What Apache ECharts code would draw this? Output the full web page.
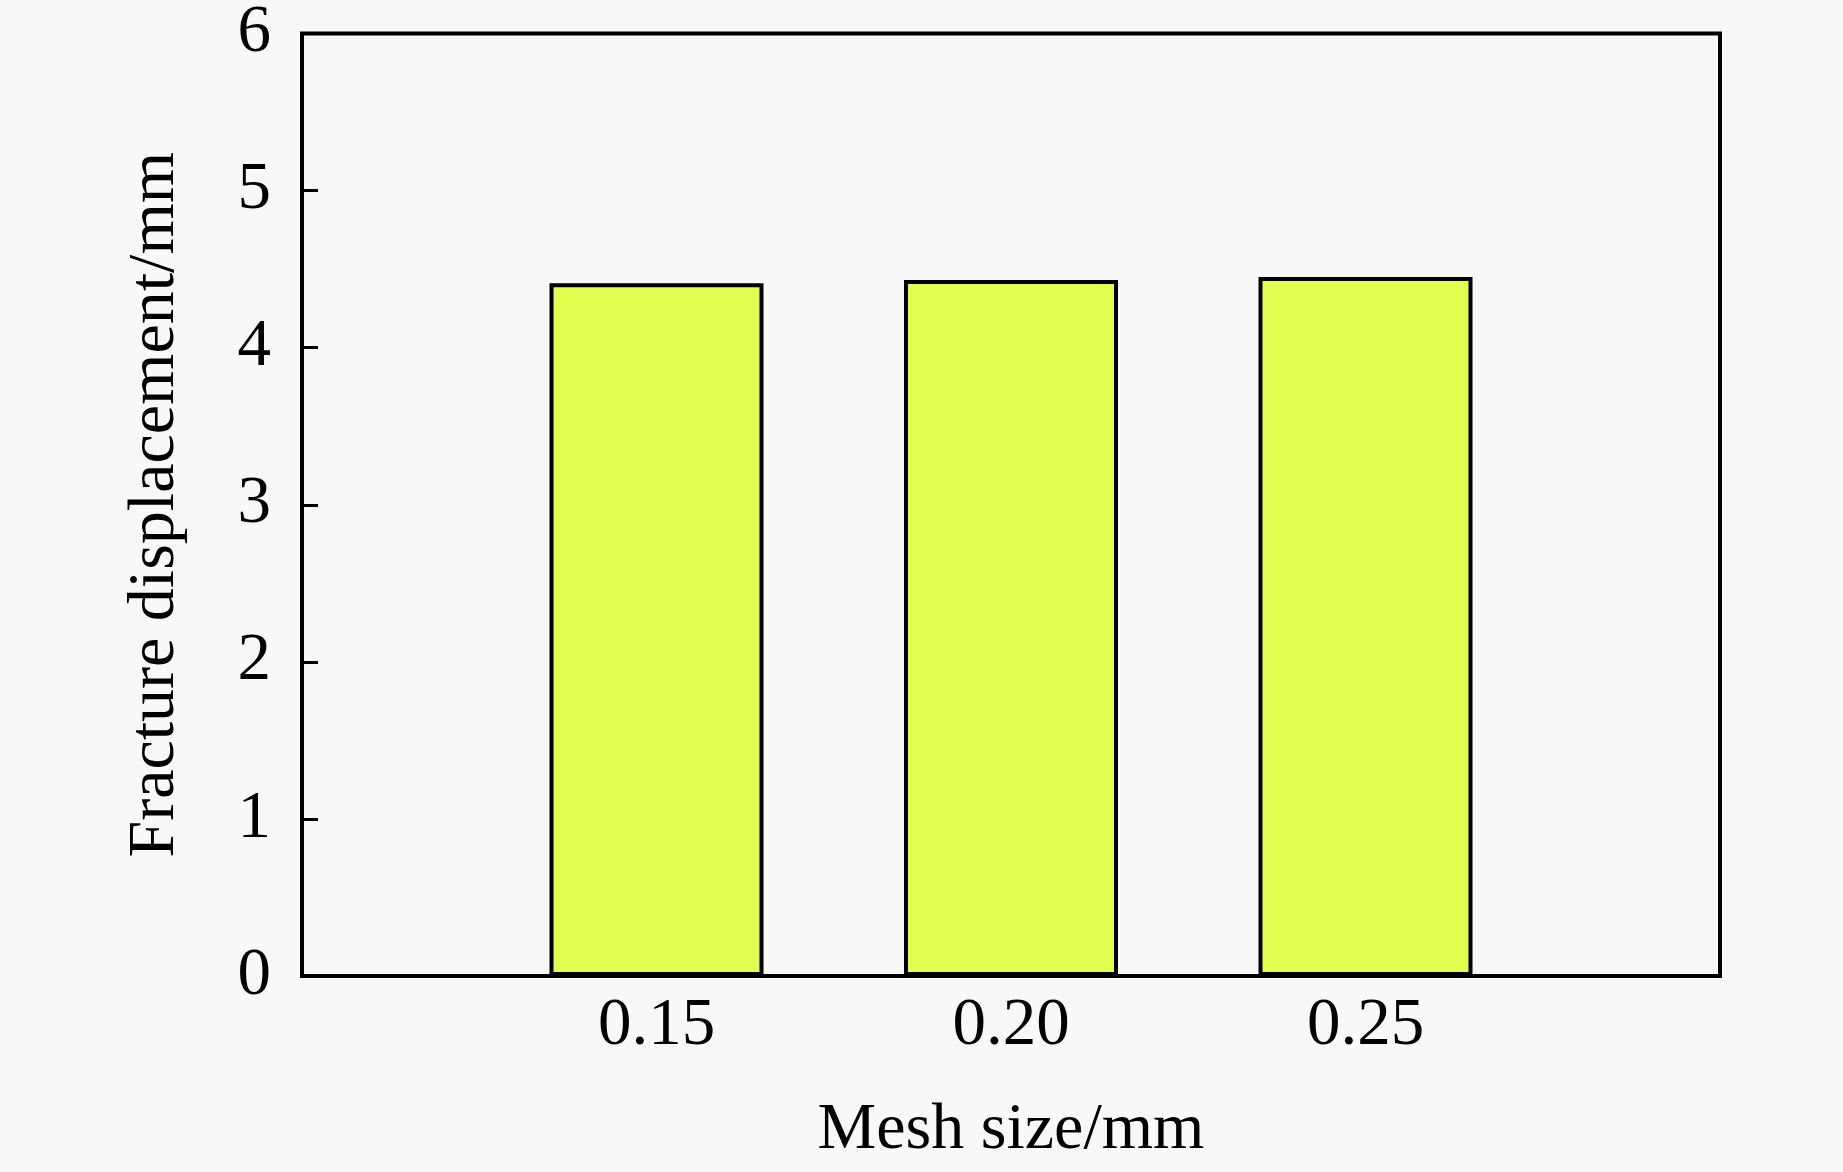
<!DOCTYPE html>
<html>
<head>
<meta charset="utf-8">
<style>
html,body{margin:0;padding:0;background:#f8f8f8;}
#chart{width:1843px;height:1172px;}
</style>
<script src="https://cdn.jsdelivr.net/npm/echarts@6/dist/echarts.min.js"></script>
</head>
<body>
<div id="chart"></div>
<script>
const categories = ['0.15', '0.20', '0.25'];
const displacement = [4.41, 4.43, 4.45];
const yTicks = [0, 1, 2, 3, 4, 5, 6];
const xTitle = 'Mesh size/mm';
const yTitle = 'Fracture displacement/mm';

const FONT = '"Liberation Serif", "Times New Roman", serif';
const chart = echarts.init(document.getElementById('chart'));
const barData = categories.map((c, i) => [parseFloat(c), displacement[i]]);

chart.setOption({
  backgroundColor: '#f8f8f8',
  animation: false,
  grid: {
    left: 302, right: 123, top: 32, bottom: 196,
    show: true, borderColor: '#000', borderWidth: 4, backgroundColor: 'transparent'
  },
  xAxis: {
    type: 'value', min: 0.1, max: 0.3, interval: 0.05,
    name: xTitle, nameLocation: 'middle', nameGap: 122,
    nameTextStyle: { fontFamily: FONT, fontSize: 66, color: '#000' },
    axisLine: { show: false },
    axisTick: { show: true, inside: true, length: 16, lineStyle: { color: '#000', width: 3 } },
    axisLabel: {
      fontFamily: FONT, fontSize: 67, color: '#000', margin: 17,
      showMinLabel: false, showMaxLabel: false,
      formatter: v => (v > 0.12 && v < 0.28) ? v.toFixed(2) : ''
    },
    splitLine: { show: false }
  },
  yAxis: {
    type: 'value', min: yTicks[0], max: yTicks[yTicks.length - 1], interval: 1,
    name: yTitle, nameLocation: 'middle', nameGap: 113,
    nameTextStyle: { fontFamily: FONT, fontSize: 66, color: '#000' },
    axisLine: { show: false },
    axisTick: { show: true, inside: true, length: 16, lineStyle: { color: '#000', width: 3 } },
    axisLabel: { fontFamily: FONT, fontSize: 67, color: '#000', margin: 31 },
    splitLine: { show: false }
  },
  series: [{
    type: 'bar',
    data: barData,
    barWidth: 214,
    itemStyle: { color: '#e3fd4e', borderColor: '#000', borderWidth: 4 }
  }]
});
</script>
</body>
</html>
